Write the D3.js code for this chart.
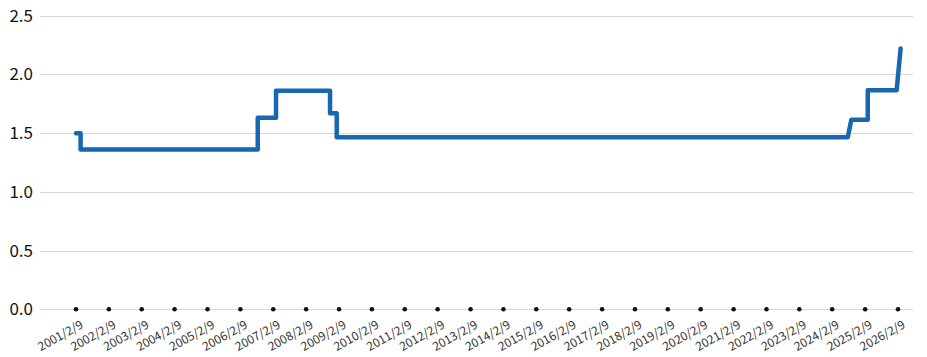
<!DOCTYPE html>
<html>
<head>
<meta charset="utf-8">
<style>
  body { margin: 0; background: #fff; }
  .grid line { stroke: #d9d9d9; stroke-width: 1; }
  .ylab { font-family: "Noto Sans CJK JP", "Noto Sans", sans-serif; font-size: 17px; fill: #111; }
  .xlab { font-family: "Noto Sans CJK JP", "Noto Sans", sans-serif; font-size: 12px; fill: #333; }
</style>
<script src="https://cdn.jsdelivr.net/npm/d3@7"></script>
</head>
<body>
<div id="chart"></div>
<script>
// step points (date, value)
var dates = ["2001-02-09", "2001-04-01", "2001-04-01", "2006-08-21", "2006-08-21", "2007-03-12",
             "2007-03-12", "2008-11-01", "2008-11-01", "2009-01-14", "2009-01-14", "2024-07-31",
             "2024-09-09", "2025-03-10", "2025-03-10", "2026-01-25", "2026-03-10"];
var values = [1.5, 1.5, 1.36, 1.36, 1.63, 1.63,
              1.86, 1.86, 1.67, 1.67, 1.465, 1.465,
              1.615, 1.615, 1.865, 1.865, 2.22];

var yTicks = [0, 0.5, 1.0, 1.5, 2.0, 2.5];
var tickYears = d3.range(2001, 2027);

var width = 927, height = 357;
var parse = d3.timeParse("%Y-%m-%d");

var svg = d3.select("#chart").append("svg")
    .attr("width", width)
    .attr("height", height);

var x = d3.scaleTime()
    .domain([parse("2001-02-09"), parse("2026-02-09")])
    .range([76, 898]);

var y = d3.scaleLinear()
    .domain([0, 2.5])
    .range([309.3, 15.7]);

// horizontal grid
svg.append("g").attr("class", "grid")
  .selectAll("line")
  .data(yTicks)
  .enter().append("line")
    .attr("x1", 40).attr("x2", 913)
    .attr("y1", function (d) { return Math.round(y(d)) + 0.5; })
    .attr("y2", function (d) { return Math.round(y(d)) + 0.5; });

// y labels
svg.selectAll(".ylab")
  .data(yTicks)
  .enter().append("text")
    .attr("class", "ylab")
    .attr("x", 33)
    .attr("y", function (d) { return y(d); })
    .attr("dy", "0.35em")
    .attr("text-anchor", "end")
    .text(function (d) { return d3.format(".1f")(d); });

// x tick dots and labels
var tickDates = tickYears.map(function (yr) { return new Date(yr, 1, 9); });

svg.selectAll(".dot")
  .data(tickDates)
  .enter().append("circle")
    .attr("class", "dot")
    .attr("cx", function (d) { return x(d); })
    .attr("cy", y(0))
    .attr("r", 2.3)
    .style("fill", "#111");

svg.selectAll(".xlab")
  .data(tickDates)
  .enter().append("text")
    .attr("class", "xlab")
    .attr("text-anchor", "end")
    .attr("transform", function (d) {
      return "translate(" + (x(d) + 8) + "," + (y(0) + 18) + ") rotate(-29)";
    })
    .text(function (d) { return d3.timeFormat("%Y/%-m/%-d")(d); });

// the line
var pts = dates.map(function (d, i) { return [parse(d), values[i]]; });

var line = d3.line()
    .x(function (d) { return x(d[0]); })
    .y(function (d) { return y(d[1]); });

svg.append("path")
    .datum(pts)
    .attr("d", line)
    .style("fill", "none")
    .style("stroke", "#1767b1")
    .style("stroke-width", 4.5)
    .style("stroke-linejoin", "round")
    .style("stroke-linecap", "round");
</script>
</body>
</html>
